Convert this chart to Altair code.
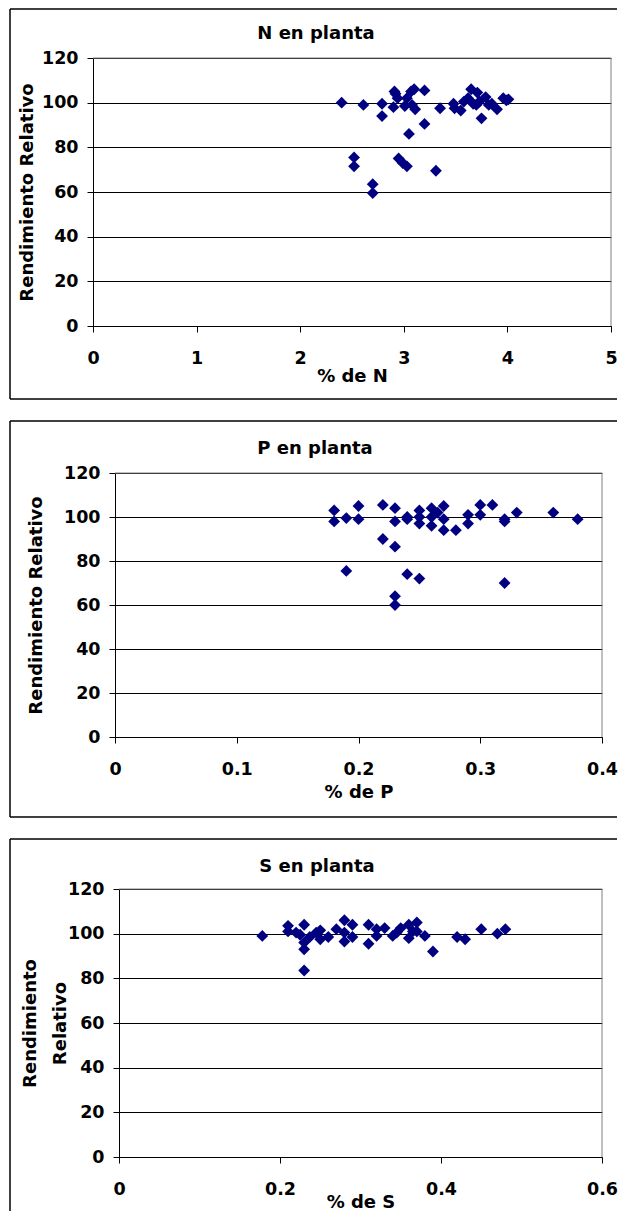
import altair as alt
import pandas as pd

# ---------------- data ----------------
n_pct = [2.40, 2.61, 2.79, 2.79, 2.52, 2.52, 2.70, 2.70, 2.91, 2.92, 2.90, 2.94,
         2.95, 2.99, 3.03, 3.01, 3.03, 3.07, 3.10, 3.08, 3.11, 3.05, 3.20, 3.20,
         3.31, 3.35, 3.48, 3.49, 3.55, 3.58, 3.62, 3.65, 3.67, 3.70, 3.71, 3.73,
         3.75, 3.79, 3.82, 3.85, 3.90, 3.96, 3.99, 4.01]
n_rr = [100, 99, 99.5, 94, 75.5, 71.5, 63.5, 59.5, 105, 104, 98, 102,
        75, 73, 71.5, 98.5, 102, 105, 106, 99, 97, 86, 105.5, 90.5,
        69.5, 97.5, 99.5, 97.5, 96.5, 100.5, 102, 106, 99.5, 99, 104.5, 100.5,
        93, 102.5, 99, 99.5, 97, 102, 101, 101.5]

p_pct = [0.18, 0.18, 0.19, 0.19, 0.20, 0.20, 0.22, 0.22, 0.23, 0.23, 0.23, 0.23,
         0.23, 0.24, 0.24, 0.24, 0.25, 0.25, 0.25, 0.25, 0.26, 0.26, 0.26, 0.265,
         0.27, 0.27, 0.27, 0.28, 0.29, 0.29, 0.30, 0.30, 0.31, 0.32, 0.32, 0.32,
         0.33, 0.36, 0.38]
p_rr = [103, 98, 99.5, 75.5, 105, 99, 105.5, 90, 104, 98, 86.5, 64,
        60, 100, 99, 74, 103, 100, 97, 72, 104, 100, 96, 102,
        105, 99, 94, 94, 101, 97, 105.5, 101, 105.5, 99, 98, 70,
        102, 102, 99]

s_pct = [0.178, 0.21, 0.21, 0.22, 0.225, 0.23, 0.23, 0.23, 0.23, 0.237,
         0.245, 0.25, 0.25, 0.26, 0.27, 0.28, 0.28, 0.28, 0.29, 0.29,
         0.31, 0.31, 0.32, 0.32, 0.33, 0.34, 0.345, 0.35, 0.36, 0.36,
         0.365, 0.37, 0.37, 0.38, 0.39, 0.42, 0.43, 0.45, 0.47, 0.48]
s_rr = [99, 103.5, 101, 100.5, 99.5, 104, 96, 93, 83.5, 98.5,
        100.5, 101.5, 97.5, 98.5, 102, 106, 100.5, 96.5, 104, 98.5,
        104, 95.5, 102, 99, 102.5, 99, 100.5, 102.5, 104, 98,
        101, 105, 101, 99, 92, 98.5, 97.5, 102, 100, 102]

titles = ["N en planta", "P en planta", "S en planta"]
x_titles = ["% de N", "% de P", "% de S"]
y_title = "Rendimiento Relativo"
y_title_2lines = ["Rendimiento", "Relativo"]
y_ticks = [0, 20, 40, 60, 80, 100, 120]
n_ticks = [0, 1, 2, 3, 4, 5]
p_ticks = [0, 0.1, 0.2, 0.3, 0.4]
s_ticks = [0, 0.2, 0.4, 0.6]

FONT = "DejaVu Sans"
NAVY = "#000080"
ONE = pd.DataFrame({"k": [0]})


def panel(xs, ys, xticks, title, xtitle, ytitle, w, h, fl, ft, fb, fr,
          tx, ty, ytx, xty, ylh=None, draw_bottom=True):
    df = pd.DataFrame({"x": xs, "y": ys})
    yaxis = dict(values=y_ticks, format="d", title=ytitle, grid=True,
                 gridColor="#000000", gridWidth=1, tickSize=6,
                 labelPadding=9, titleX=ytx, titleAngle=270,
                 titleAlign="center", titleBaseline="middle")
    if ylh is not None:
        yaxis["titleLineHeight"] = ylh
    pts = alt.Chart(df).mark_point(
        shape="diamond", filled=True, size=140, color=NAVY, opacity=1,
        strokeWidth=0
    ).encode(
        x=alt.X("x:Q",
                scale=alt.Scale(domain=[xticks[0], xticks[-1]], nice=False),
                axis=alt.Axis(values=xticks, format="~g", title=xtitle,
                              grid=False, labelFlush=False, tickSize=6,
                              labelPadding=26, labelBaseline="middle",
                              titleY=xty, titleBaseline="middle")),
        y=alt.Y("y:Q", scale=alt.Scale(domain=[0, 120], nice=False),
                axis=alt.Axis(**yaxis)),
    )
    gray_top = alt.Chart(ONE).mark_rule(color="#808080", strokeWidth=1).encode(
        x=alt.value(0), x2=alt.value(w), y=alt.value(0))
    gray_right = alt.Chart(ONE).mark_rule(color="#808080", strokeWidth=1).encode(
        x=alt.value(w), y=alt.value(0), y2=alt.value(h))
    f_top = alt.Chart(ONE).mark_rule(color="black", strokeWidth=1.5).encode(
        x=alt.value(fl), x2=alt.value(fr), y=alt.value(ft))
    f_left = alt.Chart(ONE).mark_rule(color="black", strokeWidth=1.5).encode(
        x=alt.value(fl), y=alt.value(ft), y2=alt.value(fb))
    layers = [pts, gray_top, gray_right, f_top, f_left]
    if draw_bottom:
        f_bot = alt.Chart(ONE).mark_rule(color="black", strokeWidth=1.5).encode(
            x=alt.value(fl), x2=alt.value(fr), y=alt.value(fb))
        layers.append(f_bot)
    ttl = alt.Chart(ONE).mark_text(
        text=title, font=FONT, fontSize=18, fontWeight="bold", color="black",
        align="center", baseline="middle"
    ).encode(x=alt.value(tx), y=alt.value(ty))
    layers.append(ttl)
    body = alt.layer(*layers).properties(width=w, height=h)
    # a 1px invisible spacer in the first column makes every row start
    # at its frame's left edge instead of at its plot origin
    spacer = alt.Chart(ONE).mark_rect(opacity=0).encode(
        x=alt.value(0), x2=alt.value(1), y=alt.value(0), y2=alt.value(1)
    ).properties(width=1, height=1)
    return alt.hconcat(spacer, body, spacing=0)


p1 = panel(n_pct, n_rr, n_ticks, titles[0], x_titles[0], y_title,
           518, 268, -83, -49, 341, 524, 223, -24, -66, 50)
p2 = panel(p_pct, p_rr, p_ticks, titles[1], x_titles[1], y_title,
           487, 264, -105, -52, 344, 502, 200, -24, -79, 55)
p3 = panel(s_pct, s_rr, s_ticks, titles[2], x_titles[2], y_title_2lines,
           483, 268, -109, -50, 322, 498, 198, -22, -89, 45,
           ylh=30, draw_bottom=False)

chart = alt.vconcat(p1, p2, p3, spacing=20, bounds="full").properties(
    padding=0
).configure_view(
    strokeWidth=0
).configure_axis(
    domainColor="black", domainWidth=1, tickColor="black", tickWidth=1,
    labelColor="black", titleColor="black", labelFont=FONT, titleFont=FONT,
    labelFontSize=17.5, titleFontSize=18, labelFontWeight="bold",
    titleFontWeight="bold"
)

chart.save("out.html", embed_options={"renderer": "svg", "actions": False})
